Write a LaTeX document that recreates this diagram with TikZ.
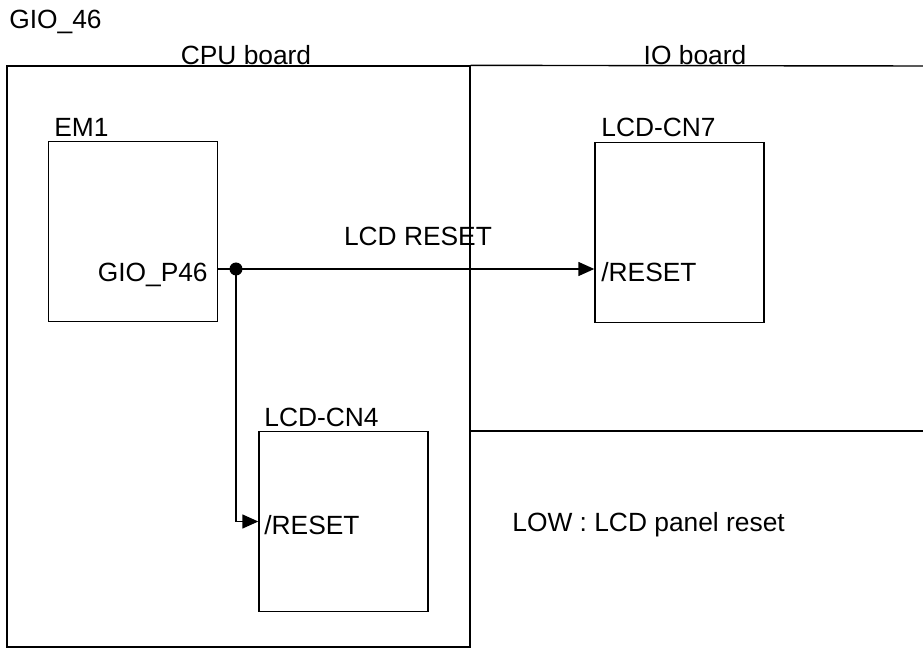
\documentclass[tikz,border=0pt]{standalone}
\usepackage{fontspec}
\setmainfont{Liberation Sans}
\usetikzlibrary{positioning,arrows.meta}
\tikzset{
  frame/.style={draw,line width=0.8pt},
  board/.style={frame,minimum width=9.26cm,minimum height=11.62cm,inner sep=0pt},
  chip/.style={frame,minimum width=3.38cm,minimum height=3.6cm,inner sep=0pt},
  junction/.style={circle,fill,inner sep=0pt,minimum size=2.6mm},
  sig/.style={-{Triangle[length=3.2mm,width=2.8mm]},line width=0.8pt},
  lbl/.style={font=\fontsize{15}{18}\selectfont,inner sep=0pt}
}
\begin{document}
\begin{tikzpicture}[x=0.02cm,y=-0.02cm]
  \useasboundingbox (0,0) rectangle (923,648);
  \node[lbl,anchor=base west] (title) at (9,29) {GIO\_46};
  % boards
  \node[board] (cpu) at (238.5,356.5) {};
  \coordinate (iotop) at (923,66);
  \coordinate (iobot) at (923,431);
  \draw[frame] (cpu.north east) -- (iotop);
  \draw[frame] (cpu.east |- iobot) -- (iobot);
  \node[lbl,anchor=base] (cpulbl) at (246,65) {CPU board};
  \node[lbl,anchor=base] (iolbl) at (695,65) {IO board};
  % parts
  \node[chip] (em1) at (133,231.5) {};
  \node[chip] (cn7) at (679.5,232.5) {};
  \node[chip] (cn4) at (343.5,521.5) {};
  \node[lbl,anchor=base west] (em1lbl) at (54,137) {EM1};
  \node[lbl,anchor=base west] (cn7lbl) at (601,137) {LCD-CN7};
  \node[lbl,anchor=base west] (cn4lbl) at (264,426) {LCD-CN4};
  \node[lbl,anchor=base east] (gpio) at (208,282) {GIO\_P46};
  \node[lbl,anchor=base west] (rst7) at (601,282) {/RESET};
  \node[lbl,anchor=base west] (rst4) at (264,534) {/RESET};
  % signal
  \node[junction] (dot) at (236,269) {};
  \draw[sig] (em1.east |- dot) -- (dot.center -| cn7.west);
  \draw[sig] (dot.center) |- (cn4.west);
  \node[lbl,anchor=base] (siglbl) at (418,246) {LCD RESET};
  \node[lbl,anchor=base west] (note) at (512,531) {LOW : LCD panel reset};
\end{tikzpicture}
\end{document}
